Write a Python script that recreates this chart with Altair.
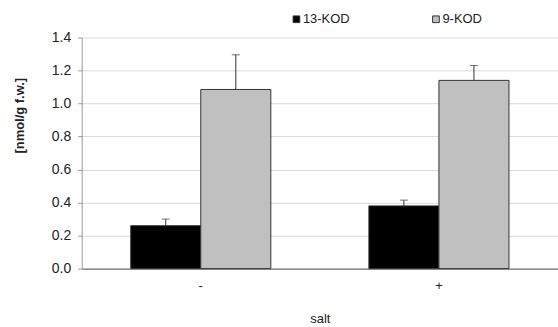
import altair as alt
import pandas as pd

salt = ["-", "-", "+", "+"]
series = ["13-KOD", "9-KOD", "13-KOD", "9-KOD"]
values = [0.26, 1.085, 0.38, 1.14]
errors = [0.04, 0.21, 0.035, 0.09]
y_ticks = [0, 0.2, 0.4, 0.6, 0.8, 1.0, 1.2, 1.4]

df = pd.DataFrame({"salt": salt, "series": series, "value": values, "err": errors})
df["top"] = df["value"] + df["err"]

FONT = "Liberation Sans"
x_axis = alt.Axis(labelAngle=0, ticks=False, labelPadding=11, labelFontSize=13,
                  labelColor="#222", domainColor="#555", titleFontWeight="normal",
                  titleFontSize=13, titleColor="#222", titleY=50,
                  titleBaseline="middle", grid=False)
x_enc = alt.X("salt:N", sort=["-", "+"], title="salt",
              scale=alt.Scale(paddingInner=0, paddingOuter=0), axis=x_axis)
xoff = alt.XOffset("series:N", sort=["13-KOD", "9-KOD"],
                   scale=alt.Scale(paddingInner=0, paddingOuter=0.7))
color_scale = alt.Scale(domain=["13-KOD", "9-KOD"], range=["#000000", "#c0c0c0"])

y_axis = alt.Axis(values=y_ticks, format=".1f", labelOverlap=False, tickCount=8,
                  labelFontSize=14, labelColor="#222", tickSize=4, tickColor="#999",
                  domainColor="#999", gridColor="#d9d9d9", labelPadding=7,
                  titleFontSize=13, titleFontWeight="bold", titleColor="#222",
                  titleX=-62, titleY=78, titleAlign="center", titleBaseline="middle")
y_scale = alt.Scale(domain=[0, 1.4], nice=False)
YT = "[nmol/g f.w.]"

bars = alt.Chart(df).mark_bar(stroke="#333", strokeWidth=1).encode(
    x=x_enc,
    xOffset=xoff,
    y=alt.Y("value:Q", title=YT, scale=y_scale, axis=y_axis),
    color=alt.Color("series:N", scale=color_scale, sort=["13-KOD", "9-KOD"],
                    legend=alt.Legend(title=None, orient="none", direction="horizontal",
                                      legendX=209, legendY=-25, symbolType="square",
                                      symbolSize=45, symbolStrokeColor="#333",
                                      symbolStrokeWidth=1, labelFontSize=13,
                                      labelColor="#222", labelOffset=0,
                                      columnPadding=80, labelFont=FONT)),
)

rules = alt.Chart(df).mark_rule(color="#333", strokeWidth=1).encode(
    x=x_enc, xOffset=xoff,
    y=alt.Y("value:Q", title=YT, scale=y_scale, axis=y_axis), y2="top:Q"
)
caps = alt.Chart(df).mark_tick(color="#333", thickness=1, size=8).encode(
    x=x_enc, xOffset=xoff,
    y=alt.Y("top:Q", title=YT, scale=y_scale, axis=y_axis)
)

chart = alt.layer(bars, rules, caps).properties(
    width=478, height=232,
    autosize=alt.AutoSizeParams(type="none"),
    padding={"left": 82, "top": 37, "right": 0, "bottom": 58},
).configure(font=FONT).configure_view(stroke=None)

chart.save("out.html", embed_options={"renderer": "svg", "actions": False})
